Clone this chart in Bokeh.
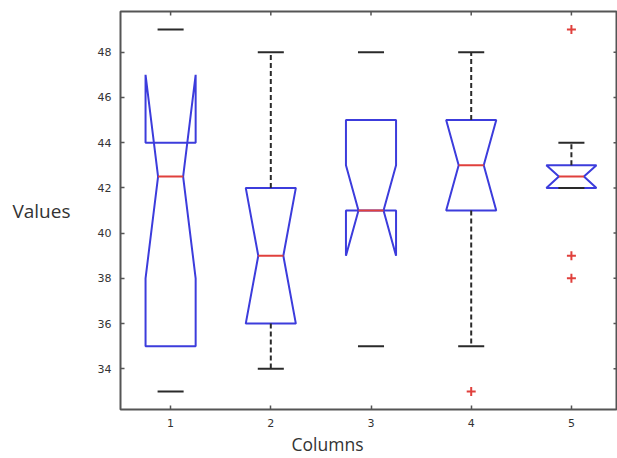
from bokeh.plotting import figure
from bokeh.models import Range1d, FixedTicker, Title
from bokeh.embed import file_html
from bokeh.resources import INLINE

# ---- data ----
columns = [1, 2, 3, 4, 5]
q1 = [35, 36, 41, 41, 42]
q3 = [44, 42, 45, 45, 43]
medians = [42.5, 39, 41, 43, 42.5]
notch_lo = [38, 36, 39, 41, 42]
notch_hi = [47, 42, 43, 45, 43]
whisker_lo = [33, 34, 35, 35, 42]
whisker_hi = [49, 48, 48, 48, 44]
whisker_drawn = [False, True, False, True, True]
outlier_col = [4, 5, 5, 5]
outlier_val = [33, 49, 39, 38]
x_ticks = [1, 2, 3, 4, 5]
y_ticks = [34, 36, 38, 40, 42, 44, 46, 48]

BLUE = "#3c3cdc"
RED = "#e0403c"
DARK = "#2a2a2a"
TICK_COLOR = "#333333"
FRAME = "#555555"

W = 0.25    # box half width
NW = 0.125  # notch half width
CW = 0.13   # cap half width
X0, X1 = 0.5, 5.46
Y0, Y1 = 32.2, 49.8

p = figure(width=617, height=455, output_backend="svg", toolbar_location=None,
           x_range=Range1d(X0, X1), y_range=Range1d(Y0, Y1),
           min_border_left=120, min_border_right=0, min_border_top=11,
           min_border_bottom=0)
p.background_fill_color = "white"
p.border_fill_color = "white"
p.outline_line_color = FRAME
p.outline_line_width = 2
p.xgrid.visible = False
p.ygrid.visible = False

for ax in (p.xaxis[0], p.yaxis[0]):
    ax.axis_line_color = None
    ax.major_tick_in = 4
    ax.major_tick_out = 0
    ax.minor_tick_line_color = None
    ax.major_tick_line_color = FRAME
    ax.major_tick_line_width = 1.5
    ax.major_label_text_font = "DejaVu Sans"
    ax.major_label_text_font_size = "11px"
    ax.major_label_text_color = TICK_COLOR
p.xaxis.ticker = FixedTicker(ticks=x_ticks)
p.yaxis.ticker = FixedTicker(ticks=y_ticks)
p.xaxis.major_label_standoff = 9
p.yaxis.major_label_standoff = 9

# y axis title, horizontal
p.yaxis.axis_label = "Values"
p.yaxis.axis_label_text_font = "Open Sans"
p.yaxis.axis_label_text_font_size = "19px"
p.yaxis.axis_label_text_font_style = "normal"
p.yaxis.axis_label_text_color = "#333333"
p.yaxis.axis_label_standoff = 24
p.yaxis.axis_label_orientation = "horizontal"
p.yaxis.axis_label_text_baseline = "top"

# x axis title (left-aligned with an offset, as in the reference)
p.add_layout(Title(text="Columns", align="left", offset=171, text_font="Open Sans",
                   text_font_size="17.5px", text_font_style="normal",
                   text_color="#333333", standoff=0), "below")

# inward ticks on the top and right frame edges (MATLAB "box on")
p.rect(x=x_ticks, y=[Y1] * len(x_ticks), width=1.5, height=8,
       width_units="screen", height_units="screen", fill_color=FRAME, line_color=None)
p.rect(x=[X1] * len(y_ticks), y=y_ticks, width=8, height=1.5,
       width_units="screen", height_units="screen", fill_color=FRAME, line_color=None)

# notched boxes
xs, ys = [], []
for c, a, b, m, nl, nh in zip(columns, q1, q3, medians, notch_lo, notch_hi):
    xs.append([c - W, c - W, c - NW, c - W, c - W, c + W, c + W, c + NW, c + W, c + W])
    ys.append([a, nl, m, nh, b, b, nh, m, nl, a])
p.patches(xs, ys, fill_color=None, line_color=BLUE, line_width=2)

# whiskers (dashed)
wx0, wy0, wx1, wy1 = [], [], [], []
for c, a, b, lo, hi, d in zip(columns, q1, q3, whisker_lo, whisker_hi, whisker_drawn):
    if d:
        wx0 += [c, c]; wx1 += [c, c]
        wy0 += [b, a]; wy1 += [hi, lo]
p.segment(wx0, wy0, wx1, wy1, line_color=DARK, line_width=2, line_dash="5 3")

# caps
cx0 = [c - CW for c in columns] * 2
cx1 = [c + CW for c in columns] * 2
cy = whisker_hi + whisker_lo
p.segment(cx0, cy, cx1, cy, line_color=DARK, line_width=2)

# medians
p.segment([c - NW for c in columns], medians, [c + NW for c in columns], medians,
          line_color=RED, line_width=2)

# outliers
p.scatter(outlier_col, outlier_val, marker="cross", size=9, line_color=RED, line_width=2)

open("out.html", "w").write(file_html(p, INLINE))
